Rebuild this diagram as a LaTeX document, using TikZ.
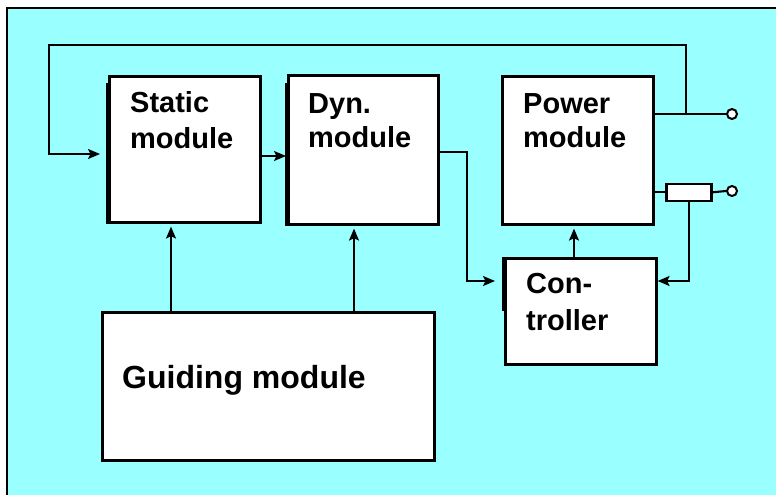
\documentclass[tikz,border=0pt]{standalone}
\usepackage{fontspec}
\setmainfont{Liberation Sans}
\usetikzlibrary{arrows.meta}
\definecolor{bgcyan}{HTML}{99FFFF}
\begin{document}
\begin{tikzpicture}[x=1pt,y=-1pt,
  module/.style={draw=black,line width=2.6pt,fill=white,rectangle,inner sep=0pt,anchor=north west},
  lbl/.style={font=\fontsize{29}{36}\selectfont\bfseries,anchor=base west,inner sep=0pt},
  biglbl/.style={font=\fontsize{32}{38}\selectfont\bfseries,anchor=base west,inner sep=0pt},
  wire/.style={line width=2.1pt},
  arr/.style={wire,-{Stealth[length=12pt,width=10pt,inset=2.5pt]}},
  shadowline/.style={line width=2.4pt},
  terminal/.style={circle,draw=black,fill=white,line width=2pt,minimum size=10pt,inner sep=0pt}]
\useasboundingbox (0,0) rectangle (776,495);
% panel background
\fill[bgcyan] (7,8) rectangle (776,495);
\draw[line width=2pt] (7,495) -- (7,8) -- (776,8);

% module boxes
\node[module,minimum width=151pt,minimum height=146pt] (static) at (108,75) {};
\node[module,minimum width=150pt,minimum height=149pt] (dyn) at (287,74) {};
\node[module,minimum width=151pt,minimum height=148pt] (power) at (501,75) {};
\node[module,minimum width=151pt,minimum height=106pt] (ctrl) at (504,257) {};
\node[module,minimum width=332pt,minimum height=148pt] (guide) at (101,311) {};
\node[module,minimum width=45pt,minimum height=17pt] (res) at (665,182.5) {};

% thickened left edges
\draw[shadowline] ([xshift=-1.3pt,yshift=-8pt]static.north west) -- ([xshift=-1.3pt]static.south west);
\draw[shadowline] ([xshift=-1.3pt,yshift=-9pt]dyn.north west) -- ([xshift=-1.3pt]dyn.south west);
\draw[shadowline] ([xshift=-1.3pt]ctrl.north west) -- ([xshift=-1.3pt,yshift=55pt]ctrl.south west);

% labels
\node[lbl] (sL1) at (130,112) {Static};
\node[lbl] (sL2) at (130,148) {module};
\node[lbl] (dL1) at (308,113) {Dyn.};
\node[lbl] (dL2) at (308,147) {module};
\node[lbl] (pL1) at (523,113) {Power};
\node[lbl] (pL2) at (523,147) {module};
\node[lbl] (cL1) at (526,293) {Con-};
\node[lbl] (cL2) at (526,330) {troller};
\node[biglbl] (gL) at (122,388) {Guiding module};

% output terminals
\node[terminal] (out1) at (732,114) {};
\node[terminal] (out2) at (732,191) {};
\coordinate (fbTap) at (686,114);

% power outputs
\draw[wire] (power.east |- out1) -- (out1.west);
\draw[wire] (power.east |- res) -- (res.west);
\draw[wire] (res.east) -- (out2.west);

% feedback loop to the static module
\draw[arr] (fbTap) -- (686,45) -- (49,45) -- (49,154) -- ([xshift=-8pt]static.west |- 0,154);

% forward path
\draw[arr] (static.east |- 0,156) -- ([xshift=-1pt]dyn.west |- 0,156);
\draw[arr] (dyn.east |- 0,152) -- (467,152) -- (467,281) -- ([xshift=-9pt]ctrl.west |- 0,281);

% current measurement back to the controller
\draw[arr] (res.south) |- (ctrl.east |- 0,281);

% controller drives the power module
\draw[arr] (ctrl.north -| 574,0) -- ([yshift=-3pt]power.south -| 574,0);

% guiding module inputs
\draw[arr] (guide.north -| 171,0) -- ([yshift=-3pt]static.south -| 171,0);
\draw[arr] (guide.north -| 354,0) -- ([yshift=-3pt]dyn.south -| 354,0);
\end{tikzpicture}
\end{document}
